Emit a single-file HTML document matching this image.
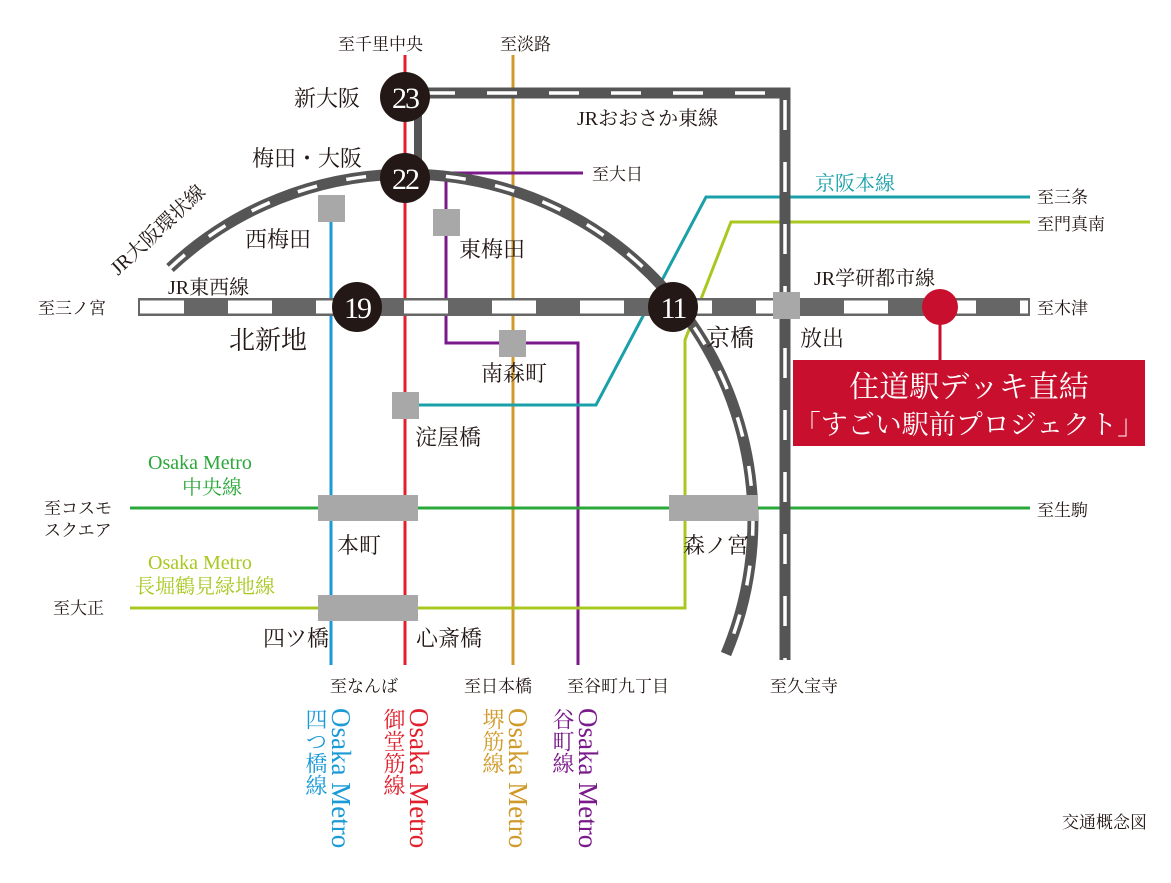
<!DOCTYPE html>
<html><head><meta charset="utf-8"><style>
body{margin:0;background:#fff;width:1171px;height:883px;overflow:hidden;position:relative;font-family:"Liberation Serif","Noto Serif CJK SC",serif}
svg{position:absolute;left:0;top:0}
.v{position:absolute;writing-mode:vertical-rl;font-size:22px;line-height:25px;white-space:pre}
.v span{font-size:27px}
</style></head><body>
<svg width="1171" height="883" viewBox="0 0 1171 883" font-family="Liberation Serif, Noto Serif CJK SC, serif">
<g fill="none" stroke-width="3">
<line x1="331" y1="208" x2="331" y2="665" stroke="#1a9ad6"/>
<line x1="405" y1="55" x2="405" y2="665" stroke="#e0202c"/>
<line x1="513" y1="55" x2="513" y2="665" stroke="#d09a2a"/>
<polyline points="583,173 446,173 446,343 578,343 578,665" stroke="#7a1a8a"/>
<polyline points="1030,197 706,197 596,405 405,405" stroke="#1aa0a8"/>
<polyline points="1030,222 731,222 685,340 685,608 130,608" stroke="#a8c820"/>
<line x1="130" y1="508" x2="1030" y2="508" stroke="#2ba83a"/>
</g>
<g fill="none">
<path d="M170,268 A346,346 0 0 1 726,654" stroke="#555" stroke-width="11"/>
<path d="M170,268 A346,346 0 0 1 726,654" stroke="#fff" stroke-width="3.5" stroke-dasharray="20,30"/>
<polyline points="405,93 785,93 785,660" stroke="#555" stroke-width="11"/>
<line x1="425" y1="93" x2="785" y2="93" stroke="#fff" stroke-width="3.5" stroke-dasharray="30,32"/>
<line x1="785" y1="100" x2="785" y2="660" stroke="#fff" stroke-width="3.5" stroke-dasharray="30,32"/>
<line x1="418" y1="97" x2="418" y2="170" stroke="#555" stroke-width="8"/>
<line x1="138" y1="307" x2="1030" y2="307" stroke="#666" stroke-width="18"/>
<line x1="140" y1="307" x2="1028" y2="307" stroke="#fff" stroke-width="13" stroke-dasharray="44,44"/>
</g>
<g fill="#a8a8a8">
<rect x="318" y="195" width="27" height="27"/>
<rect x="433" y="209" width="27" height="27"/>
<rect x="499" y="330" width="27" height="27"/>
<rect x="392" y="392" width="27" height="27"/>
<rect x="773" y="292" width="27" height="27"/>
<rect x="318" y="495" width="100" height="26"/>
<rect x="318" y="595" width="100" height="26"/>
<rect x="669" y="495" width="89" height="26"/>
</g>
<g fill="#231815">
<circle cx="405" cy="97" r="25"/><circle cx="405" cy="178" r="25"/>
<circle cx="357" cy="307" r="25"/><circle cx="673" cy="307" r="25"/>
</g>
<g fill="#fff" font-size="30" text-anchor="middle" letter-spacing="-2">
<text x="405" y="108">23</text><text x="405" y="189">22</text>
<text x="357" y="318">19</text><text x="673" y="318">11</text>
</g>
<line x1="940" y1="307" x2="940" y2="362" stroke="#c8102e" stroke-width="3"/>
<circle cx="940" cy="307" r="18" fill="#c8102e"/>
<rect x="793" y="360" width="352" height="86" fill="#c8102e"/>
<text x="969" y="397" fill="#fff" font-size="30" text-anchor="middle">住道駅デッキ直結</text>
<text x="969" y="434" fill="#fff" font-size="27" text-anchor="middle">「すごい駅前プロジェクト」</text>
<g fill="#231815" font-size="22">
<text x="294" y="106">新大阪</text>
<text x="252" y="166">梅田・大阪</text>
<text x="245" y="247">西梅田</text>
<text x="459" y="257">東梅田</text>
<text x="229" y="349" font-size="26">北新地</text>
<text x="481" y="381">南森町</text>
<text x="415" y="445">淀屋橋</text>
<text x="706" y="346" font-size="24">京橋</text>
<text x="800" y="346">放出</text>
<text x="337" y="553">本町</text>
<text x="683" y="553">森ノ宮</text>
<text x="263" y="646">四ツ橋</text>
<text x="416" y="646">心斎橋</text>
<text x="168" y="294" font-size="20">JR東西線</text>
<text x="814" y="285" font-size="20">JR学研都市線</text>
<text x="577" y="125" font-size="20">JRおおさか東線</text>
<text transform="translate(118,276) rotate(-43)" font-size="20">JR大阪環状線</text>
</g>
<g fill="#231815" font-size="17">
<text x="338" y="50">至千里中央</text>
<text x="500" y="50">至淡路</text>
<text x="592" y="180">至大日</text>
<text x="1037" y="203">至三条</text>
<text x="1037" y="230">至門真南</text>
<text x="1037" y="314">至木津</text>
<text x="1037" y="516">至生駒</text>
<text x="38" y="314">至三ノ宮</text>
<text x="44" y="514">至コスモ</text>
<text x="44" y="536">スクエア</text>
<text x="53" y="614">至大正</text>
<text x="330" y="692">至なんば</text>
<text x="464" y="692">至日本橋</text>
<text x="567" y="692">至谷町九丁目</text>
<text x="770" y="692">至久宝寺</text>
<text x="1062" y="828">交通概念図</text>
</g>
<g font-size="20">
<text x="815" y="190" fill="#1aa0a8">京阪本線</text>
<text x="148" y="469" fill="#2ba83a">Osaka Metro</text>
<text x="182" y="494" fill="#2ba83a">中央線</text>
<text x="148" y="569" fill="#a8c820">Osaka Metro</text>
<text x="135" y="593" fill="#a8c820">長堀鶴見緑地線</text>
</g>
</svg>
<div class="v" style="left:303px;top:708px;color:#1a9ad6"><span>Osaka Metro</span>
四つ橋線</div>
<div class="v" style="left:381px;top:708px;color:#e0202c"><span>Osaka Metro</span>
御堂筋線</div>
<div class="v" style="left:480px;top:708px;color:#d09a2a"><span>Osaka Metro</span>
堺筋線</div>
<div class="v" style="left:550px;top:708px;color:#7a1a8a"><span>Osaka Metro</span>
谷町線</div>
</body></html>
